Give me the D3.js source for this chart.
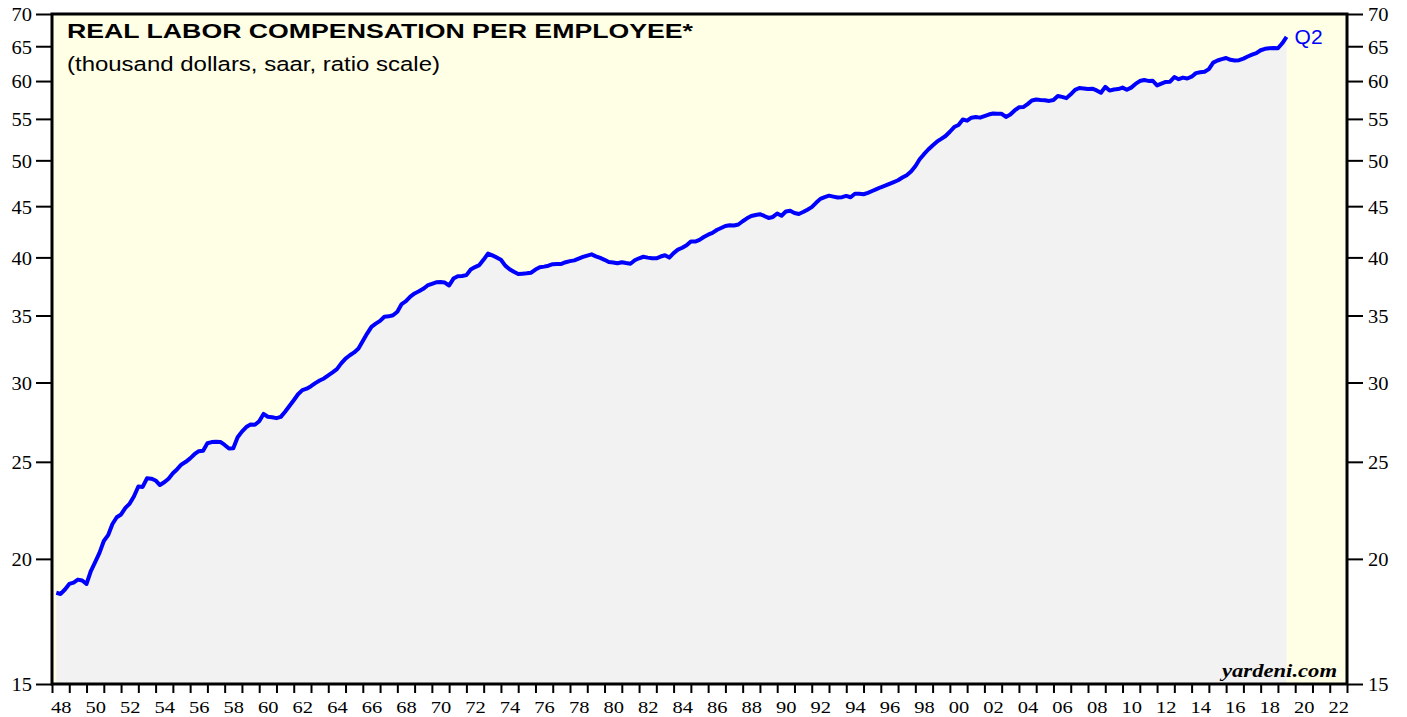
<!DOCTYPE html>
<html>
<head>
<meta charset="utf-8">
<script src="https://d3js.org/d3.v7.min.js"></script>
<style>
  body { margin: 0; background: #ffffff; }
  .tick text { font-family: "Liberation Serif", "Times New Roman", serif; fill: #000; }
</style>
</head>
<body>
<div id="chart"></div>
<script>

// quarterly values, thousand dollars, 1948Q1 .. 2019Q2
var firstYear = 1948;
var values1948_1959 = [
  18.50, 18.45, 18.64, 18.88,  18.94, 19.07, 19.03, 18.88,
  19.45, 19.85, 20.28, 20.84,  21.12, 21.67, 22.01, 22.15,
  22.49, 22.71, 23.10, 23.62,  23.60, 24.07, 24.05, 23.95,
  23.70, 23.85, 24.05, 24.35,  24.58, 24.85, 25.00, 25.20,
  25.44, 25.62, 25.65, 26.09,  26.16, 26.18, 26.17, 25.99,
  25.78, 25.79, 26.45, 26.80,  27.08, 27.24, 27.22, 27.45
];
var values1960_1969 = [
  27.91, 27.73, 27.70, 27.64,  27.72, 28.05, 28.42, 28.80,
  29.20, 29.48, 29.58, 29.75,  29.96, 30.14, 30.28, 30.50,
  30.71, 30.94, 31.35, 31.70,  31.94, 32.15, 32.44, 33.00,
  33.57, 34.10, 34.35, 34.57,  34.90, 34.93, 35.02, 35.30,
  35.93, 36.17, 36.55, 36.82,  37.00, 37.21, 37.50, 37.64
];
var values1970_1979 = [
  37.77, 37.80, 37.75, 37.50,  38.10, 38.30, 38.32, 38.40,
  38.90, 39.12, 39.30, 39.80,  40.35, 40.18, 40.00, 39.78,
  39.25, 38.93, 38.70, 38.50,  38.53, 38.56, 38.62, 38.90,
  39.10, 39.16, 39.24, 39.38,  39.40, 39.40, 39.56, 39.66,
  39.73, 39.89, 40.04, 40.17,  40.28, 40.10, 39.95, 39.78
];
var values1980_1989 = [
  39.57, 39.53, 39.46, 39.55,  39.48, 39.42, 39.74, 39.92,
  40.06, 39.98, 39.93, 39.92,  40.08, 40.20, 39.98, 40.40,
  40.72, 40.90, 41.14, 41.50,  41.48, 41.65, 41.92, 42.15,
  42.32, 42.60, 42.80, 43.00,  43.07, 43.04, 43.14, 43.47,
  43.76, 43.99, 44.10, 44.18,  44.00, 43.80, 43.90, 44.25
];
var values1990_1999 = [
  44.02, 44.45, 44.53, 44.30,  44.20, 44.40, 44.64, 44.90,
  45.35, 45.76, 45.95, 46.10,  46.00, 45.90, 45.94, 46.07,
  45.93, 46.30, 46.30, 46.25,  46.40, 46.60, 46.80, 47.00,
  47.17, 47.37, 47.56, 47.76,  48.06, 48.32, 48.73, 49.33,
  50.12, 50.71, 51.26, 51.74,  52.19, 52.54, 52.88, 53.40
];
var values2000_2009 = [
  53.98, 54.23, 54.92, 54.78,  55.15, 55.23, 55.16, 55.36,
  55.55, 55.69, 55.64, 55.65,  55.25, 55.55, 56.08, 56.48,
  56.51, 56.90, 57.38, 57.50,  57.44, 57.41, 57.32, 57.45,
  57.98, 57.85, 57.69, 58.20,  58.79, 59.05, 58.98, 58.92,
  58.96, 58.72, 58.40, 59.20,  58.70, 58.85, 58.90, 59.10
];
var values2010_2019 = [
  58.80, 59.10, 59.60, 60.00,  60.14, 60.02, 60.04, 59.40,
  59.65, 59.88, 59.91, 60.55,  60.25, 60.48, 60.35, 60.60,
  61.10, 61.22, 61.30, 61.67,  62.60, 62.90, 63.10, 63.27,
  63.00, 62.90, 62.95, 63.17,  63.48, 63.75, 63.97, 64.40,
  64.62, 64.69, 64.75, 64.70,  65.44, 66.40
];

var yTicks = [15, 20, 25, 30, 35, 40, 45, 50, 55, 60, 65, 70];
var xLabelYears = d3.range(1948, 2023, 2);
var xTickYears = d3.range(1948, 2024);

var titleText = "REAL LABOR COMPENSATION PER EMPLOYEE*";
var subtitleText = "(thousand dollars, saar, ratio scale)";
var lastLabel = "Q2";
var sourceText = "yardeni.com";

var allValues = [].concat(values1948_1959, values1960_1969, values1970_1979,
  values1980_1989, values1990_1999, values2000_2009, values2010_2019);

// each quarter is plotted at the end of the quarter
var series = allValues.map(function(v, i) {
  return { t: firstYear + (i + 1) / 4, v: v };
});

var svgWidth = 1407;
var svgHeight = 717;
var margin = { top: 14, right: 60, bottom: 33, left: 52 };
var width = svgWidth - margin.left - margin.right;
var height = svgHeight - margin.top - margin.bottom;

var svg = d3.select("#chart")
  .append("svg")
  .attr("width", svgWidth)
  .attr("height", svgHeight);

var chartGroup = svg.append("g")
  .attr("transform", `translate(${margin.left}, ${margin.top})`);

var xScale = d3.scaleLinear()
  .domain([1948, 2023])
  .range([0, width]);

var yScale = d3.scaleLog()
  .domain([15, 70])
  .range([height, 0]);

// plot background
chartGroup.append("rect")
  .attr("width", width)
  .attr("height", height)
  .attr("fill", "#ffffe5");

var area = d3.area()
  .x(d => xScale(d.t))
  .y0(height)
  .y1(d => yScale(d.v));

var line = d3.line()
  .x(d => xScale(d.t))
  .y(d => yScale(d.v));

chartGroup.append("path")
  .datum(series)
  .attr("d", area)
  .attr("fill", "#f2f2f2");

chartGroup.append("path")
  .datum(series)
  .attr("d", line)
  .attr("fill", "none")
  .attr("stroke", "#0000ff")
  .attr("stroke-width", 4)
  .attr("stroke-linejoin", "round");

// axes
var leftAxis = d3.axisLeft(yScale).tickValues(yTicks).tickFormat(d3.format("d"))
  .tickSize(16).tickPadding(4);
var rightAxis = d3.axisRight(yScale).tickValues(yTicks).tickFormat(d3.format("d"))
  .tickSize(16).tickPadding(5);
var bottomTicks = d3.axisBottom(xScale).tickValues(xTickYears).tickFormat("")
  .tickSize(9);
var bottomLabels = d3.axisBottom(xScale).tickValues(xLabelYears.map(y => y + 0.5))
  .tickFormat(d => String(Math.floor(d) % 100).padStart(2, "0"))
  .tickSize(0).tickPadding(16.5);

function styleAxis(g, size) {
  g.select(".domain").remove();
  g.selectAll(".tick line").attr("stroke", "#000").attr("stroke-width", 2);
  g.selectAll(".tick text")
    .attr("font-size", size || 18)
    .attr("textLength", 20.5)
    .attr("lengthAdjust", "spacingAndGlyphs");
}

chartGroup.append("g").call(leftAxis).call(styleAxis)
  .selectAll(".tick text").attr("dy", "0.38em");

chartGroup.append("g")
  .attr("transform", `translate(${width}, 0)`)
  .call(rightAxis).call(styleAxis)
  .selectAll(".tick text").attr("dy", "0.38em");

chartGroup.append("g")
  .attr("transform", `translate(0, ${height})`)
  .call(bottomTicks).call(styleAxis);

chartGroup.append("g")
  .attr("transform", `translate(0, ${height})`)
  .call(bottomLabels).call(styleAxis, 17.5);

// frame
chartGroup.append("rect")
  .attr("width", width)
  .attr("height", height)
  .attr("fill", "none")
  .attr("stroke", "#000")
  .attr("stroke-width", 3);

// titles
chartGroup.append("text")
  .attr("x", 15)
  .attr("y", 24)
  .attr("font-family", "Liberation Sans, Arial, sans-serif")
  .attr("font-weight", "bold")
  .attr("font-size", 20.5)
  .attr("textLength", 626)
  .attr("lengthAdjust", "spacingAndGlyphs")
  .text(titleText);

chartGroup.append("text")
  .attr("x", 15)
  .attr("y", 57)
  .attr("font-family", "Liberation Sans, Arial, sans-serif")
  .attr("font-size", 20.5)
  .attr("textLength", 373)
  .attr("lengthAdjust", "spacingAndGlyphs")
  .text(subtitleText);

var last = series[series.length - 1];
chartGroup.append("text")
  .attr("x", xScale(last.t) + 8)
  .attr("y", 30)
  .attr("font-family", "Liberation Sans, Arial, sans-serif")
  .attr("font-size", 19.5)
  .attr("fill", "#0000ff")
  .attr("textLength", 28)
  .attr("lengthAdjust", "spacingAndGlyphs")
  .text(lastLabel);

chartGroup.append("text")
  .attr("x", width - 10)
  .attr("y", height - 7)
  .attr("text-anchor", "end")
  .attr("font-family", "Liberation Serif, Times New Roman, serif")
  .attr("font-weight", "bold")
  .attr("font-style", "italic")
  .attr("font-size", 19.5)
  .attr("textLength", 115)
  .attr("lengthAdjust", "spacingAndGlyphs")
  .text(sourceText);

</script>
</body>
</html>
